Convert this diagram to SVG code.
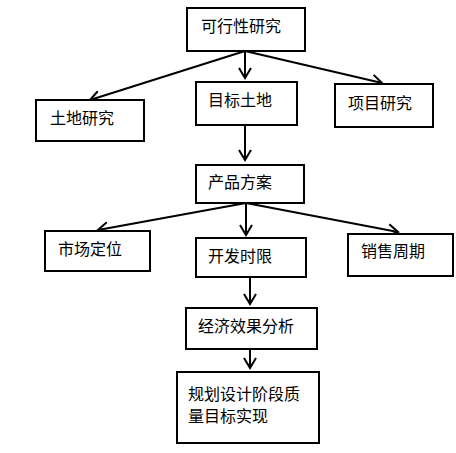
<svg xmlns="http://www.w3.org/2000/svg" width="456" height="453" viewBox="0 0 456 453">
<style>
.box{fill:#fff;stroke:#000;stroke-width:2}
.t{font-family:"Noto Sans CJK SC","Noto Sans CJK TC",sans-serif;font-size:16px;fill:#000}
.c line{stroke:#000;stroke-width:2;marker-end:url(#ah)}
</style>
<defs>
<marker id="ah" markerUnits="userSpaceOnUse" markerWidth="14" markerHeight="14" viewBox="-12 -7 14 14" refX="0" refY="0" orient="auto">
<path d="M-10,-6 L0,0 L-10,6" fill="none" stroke="#000" stroke-width="2"/>
</marker>
</defs>
<g class="c" id="connectors">
<line x1="245" y1="51" x2="90" y2="100"/>
<line x1="245" y1="51" x2="245" y2="78"/>
<line x1="245" y1="51" x2="382" y2="83"/>
<line x1="245" y1="125" x2="245" y2="160"/>
<line x1="246" y1="203" x2="98" y2="230"/>
<line x1="246" y1="203" x2="246" y2="235"/>
<line x1="246" y1="203" x2="398" y2="232"/>
<line x1="250" y1="277" x2="250" y2="304"/>
<line x1="250" y1="349" x2="250" y2="368"/>
</g>
<g id="n1"><rect class="box" x="187" y="8" width="118" height="43"/><text class="t" x="201" y="32">可行性研究</text></g>
<g id="n2"><rect class="box" x="36" y="100" width="108" height="41"/><text class="t" x="50" y="124">土地研究</text></g>
<g id="n3"><rect class="box" x="196" y="82" width="101" height="43"/><text class="t" x="208" y="106">目标土地</text></g>
<g id="n4"><rect class="box" x="335" y="84" width="98" height="43"/><text class="t" x="348" y="109">项目研究</text></g>
<g id="n5"><rect class="box" x="196" y="165" width="108" height="38"/><text class="t" x="208" y="188">产品方案</text></g>
<g id="n6"><rect class="box" x="45" y="231" width="105" height="40"/><text class="t" x="58" y="255">市场定位</text></g>
<g id="n7"><rect class="box" x="196" y="238" width="110" height="39"/><text class="t" x="208" y="262">开发时限</text></g>
<g id="n8"><rect class="box" x="348" y="234" width="105" height="42"/><text class="t" x="361" y="257">销售周期</text></g>
<g id="n9"><rect class="box" x="186" y="308" width="131" height="41"/><text class="t" x="198" y="332">经济效果分析</text></g>
<g id="n10"><rect class="box" x="177" y="372" width="142" height="71"/><text class="t" x="188" y="400">规划设计阶段质</text><text class="t" x="188" y="422">量目标实现</text></g>
</svg>
